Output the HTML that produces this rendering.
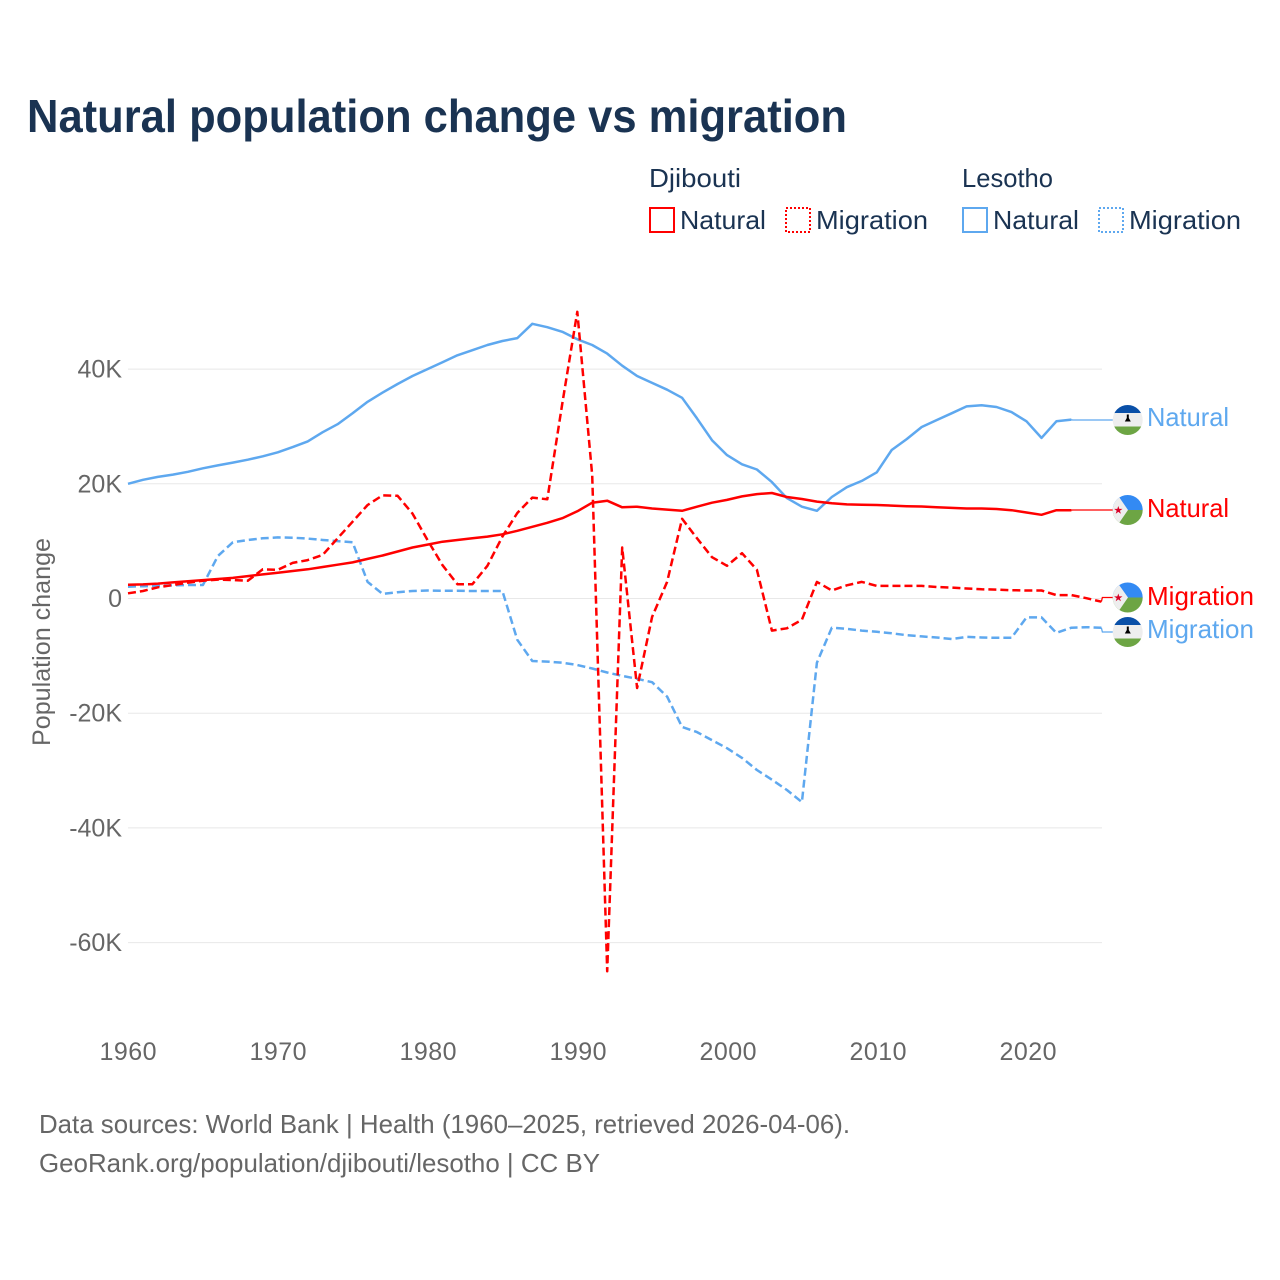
<!DOCTYPE html>
<html lang="en">
<head>
<meta charset="utf-8">
<title>Natural population change vs migration</title>
<style>
html,body{margin:0;padding:0;background:#fff;width:1280px;height:1280px;overflow:hidden}
svg{display:block;font-family:"Liberation Sans",sans-serif}
.legend{font-size:26px;fill:#1a3352}
.tick{font-size:25px;fill:#666}
.source{font-size:26px;fill:#666}
.end{font-size:26px}
</style>
</head>
<body>
<svg id="chart" width="1280" height="1280" viewBox="0 0 1280 1280" xmlns="http://www.w3.org/2000/svg">
  <text x="27" y="132" font-size="46" font-weight="700" fill="#1a3352" textLength="820" lengthAdjust="spacingAndGlyphs">Natural population change vs migration</text>

  <g>
    <text class="legend" x="649" y="187" textLength="92" lengthAdjust="spacingAndGlyphs">Djibouti</text>
    <text class="legend" x="962" y="187" textLength="91" lengthAdjust="spacingAndGlyphs">Lesotho</text>
    <rect x="650" y="208" width="24" height="24" fill="none" stroke="#ff0000" stroke-width="2"/>
    <text class="legend" x="680" y="229" textLength="86" lengthAdjust="spacingAndGlyphs">Natural</text>
    <rect x="786" y="208" width="24" height="24" fill="none" stroke="#ff0000" stroke-width="2" stroke-dasharray="2 2"/>
    <text class="legend" x="816" y="229" textLength="112" lengthAdjust="spacingAndGlyphs">Migration</text>
    <rect x="963" y="208" width="24" height="24" fill="none" stroke="#5ea8ef" stroke-width="2"/>
    <text class="legend" x="993" y="229" textLength="86" lengthAdjust="spacingAndGlyphs">Natural</text>
    <rect x="1099" y="208" width="24" height="24" fill="none" stroke="#5ea8ef" stroke-width="2" stroke-dasharray="2 2"/>
    <text class="legend" x="1129" y="229" textLength="112" lengthAdjust="spacingAndGlyphs">Migration</text>
  </g>

  <text class="tick" transform="translate(50 642) rotate(-90)" text-anchor="middle" textLength="208" lengthAdjust="spacingAndGlyphs">Population change</text>

  <g id="grid"></g>
  <g id="yticks"></g>
  <g id="xticks"></g>
  <g id="series"></g>

  <defs>
    <clipPath id="clip-a"><circle cx="1127.7" cy="420" r="15"/></clipPath>
    <clipPath id="clip-b"><circle cx="1127.7" cy="510" r="15"/></clipPath>
    <clipPath id="clip-c"><circle cx="1127.7" cy="597.5" r="15"/></clipPath>
    <clipPath id="clip-d"><circle cx="1127.7" cy="632" r="15"/></clipPath>
  </defs>

  <g clip-path="url(#clip-a)">
    <rect x="1112" y="404" width="32" height="9.5" fill="#0a50a8"/>
    <rect x="1112" y="413" width="32" height="14" fill="#eeeeee"/>
    <rect x="1112" y="426.5" width="32" height="10" fill="#6da544"/>
    <path d="M1126.8 414.5h2v3.5l2 3.5h-6l2-3.5z" fill="#000"/>
  </g>
  <g clip-path="url(#clip-b)">
    <rect x="1112" y="494" width="32" height="16" fill="#338af3"/>
    <rect x="1112" y="510" width="32" height="16" fill="#6da544"/>
    <path d="M1112 494h5l11 16-11 16h-5z" fill="#eeeeee"/>
    <path d="M1118.3 506l1 2.9h3.2l-2.6 1.9 1 3-2.6-1.9-2.6 1.9 1-3-2.6-1.9h3.2z" fill="#d80027"/>
  </g>
  <g clip-path="url(#clip-c)">
    <rect x="1112" y="582" width="32" height="15.5" fill="#338af3"/>
    <rect x="1112" y="597.5" width="32" height="16" fill="#6da544"/>
    <path d="M1112 582h5l11 15.5-11 16h-5z" fill="#eeeeee"/>
    <path d="M1118.3 593.5l1 2.9h3.2l-2.6 1.9 1 3-2.6-1.9-2.6 1.9 1-3-2.6-1.9h3.2z" fill="#d80027"/>
  </g>
  <g clip-path="url(#clip-d)">
    <rect x="1112" y="616" width="32" height="9.5" fill="#0a50a8"/>
    <rect x="1112" y="625" width="32" height="14" fill="#eeeeee"/>
    <rect x="1112" y="638.5" width="32" height="10" fill="#6da544"/>
    <path d="M1126.8 626.5h2v3.5l2 3.5h-6l2-3.5z" fill="#000"/>
  </g>

  <text class="end" x="1147" y="426" fill="#5ea8ef" textLength="82" lengthAdjust="spacingAndGlyphs">Natural</text>
  <text class="end" x="1147" y="517" fill="#ff0000" textLength="82" lengthAdjust="spacingAndGlyphs">Natural</text>
  <text class="end" x="1147" y="605" fill="#ff0000" textLength="107" lengthAdjust="spacingAndGlyphs">Migration</text>
  <text class="end" x="1147" y="638" fill="#5ea8ef" textLength="107" lengthAdjust="spacingAndGlyphs">Migration</text>

  <text class="source" x="39" y="1133" textLength="811" lengthAdjust="spacingAndGlyphs">Data sources: World Bank | Health (1960–2025, retrieved 2026-04-06).</text>
  <text class="source" x="39" y="1172" textLength="561" lengthAdjust="spacingAndGlyphs">GeoRank.org/population/djibouti/lesotho | CC BY</text>
</svg>

<script>
const startYear = 1960;
const xTickYears = [1960, 1970, 1980, 1990, 2000, 2010, 2020];
const yTickValues = [40, 20, 0, -20, -40, -60];
const yTickLabels = ["40K", "20K", "0", "-20K", "-40K", "-60K"];

const djiboutiNatural = [2.4,2.45,2.6,2.8,3.0,3.2,3.4,3.6,3.9,4.2,4.5,4.8,5.1,5.5,5.9,6.3,6.9,7.5,8.2,8.9,9.4,9.9,10.2,10.5,10.8,11.2,11.8,12.5,13.2,14.0,15.2,16.7,17.05,15.9,16.0,15.7,15.5,15.3,16.0,16.7,17.2,17.8,18.2,18.4,17.7,17.35,16.9,16.6,16.4,16.35,16.3,16.2,16.1,16.05,15.9,15.8,15.7,15.7,15.6,15.4,15.0,14.6,15.4,15.4];
const djiboutiMigration = [0.9,1.3,1.95,2.35,2.75,3.1,3.3,3.2,3.1,5.1,5.0,6.2,6.7,7.6,10.5,13.4,16.3,18.0,17.9,14.8,10.2,5.8,2.5,2.5,5.7,10.8,14.9,17.6,17.3,34,50.0,21.5,-65,8.9,-15.6,-3.2,2.9,13.9,10.5,7.2,5.7,7.9,5.0,-5.6,-5.2,-3.7,2.9,1.4,2.3,2.9,2.2,2.2,2.2,2.2,2.0,1.9,1.75,1.6,1.55,1.45,1.4,1.4,0.6,0.6,0.05,-0.55];
const lesothoNatural = [20.0,20.7,21.2,21.6,22.1,22.7,23.2,23.7,24.2,24.8,25.5,26.4,27.4,29.0,30.4,32.3,34.3,35.9,37.4,38.8,40.0,41.2,42.4,43.3,44.2,44.9,45.4,47.9,47.3,46.5,45.2,44.2,42.7,40.6,38.8,37.6,36.4,35.0,31.4,27.6,25.0,23.4,22.5,20.3,17.5,16.0,15.3,17.7,19.4,20.5,22.0,25.9,27.8,29.9,31.1,32.3,33.5,33.7,33.4,32.5,30.9,28.0,30.9,31.2];
const lesothoMigration = [2.05,2.15,2.2,2.3,2.35,2.35,7.4,9.8,10.2,10.5,10.65,10.6,10.45,10.2,10.0,9.8,2.9,0.8,1.1,1.3,1.4,1.35,1.35,1.3,1.3,1.3,-7.2,-10.9,-11.0,-11.2,-11.6,-12.2,-12.9,-13.5,-14.0,-14.6,-17.1,-22.4,-23.3,-24.7,-26.1,-27.8,-29.9,-31.6,-33.4,-35.5,-11.2,-5.1,-5.3,-5.6,-5.8,-6.07,-6.4,-6.6,-6.8,-7.06,-6.7,-6.8,-6.85,-6.85,-3.3,-3.3,-6.0,-5.1,-5.0,-5.1];

const NS = "http://www.w3.org/2000/svg";
const xOf = function (year) { return 128 + (year - 1960) * 15; };
const xData = function (year) { return 128 + (year - 1960) * 14.975; };
const yOf = function (k) { return 598.5 - k * 5.735; };
const gridGroup = document.getElementById("grid");
const yTickGroup = document.getElementById("yticks");
const xTickGroup = document.getElementById("xticks");
const seriesGroup = document.getElementById("series");

yTickValues.forEach(function (v, i) {
  const line = document.createElementNS(NS, "line");
  
  
  line.setAttribute("x1", 128);
  line.setAttribute("x2", 1102);
  line.setAttribute("y1", yOf(v));
  line.setAttribute("y2", yOf(v));
  line.setAttribute("stroke", "#e8e8e8");
  line.setAttribute("stroke-width", "1");
  gridGroup.appendChild(line);

  const label = document.createElementNS(NS, "text");
  
  
  label.setAttribute("class", "tick");
  label.setAttribute("x", 122);
  label.setAttribute("y", yOf(v) + 8.5);
  label.setAttribute("text-anchor", "end");
  label.textContent = yTickLabels[i];
  yTickGroup.appendChild(label);
});

xTickYears.forEach(function (year) {
  const label = document.createElementNS(NS, "text");
  
  
  label.setAttribute("class", "tick");
  label.setAttribute("x", xOf(year));
  label.setAttribute("y", 1060);
  label.setAttribute("text-anchor", "middle");
  label.setAttribute("textLength", "57");
  label.textContent = String(year);
  xTickGroup.appendChild(label);
});

function drawSeries(name, values, color, dashed, labelY) {
  const pts = values.map(function (v, i) {
    return xData(startYear + i).toFixed(1) + "," + yOf(v).toFixed(1);
  });
  const path = document.createElementNS(NS, "polyline");
  
  
  path.setAttribute("points", pts.join(" "));
  path.setAttribute("fill", "none");
  path.setAttribute("stroke", color);
  path.setAttribute("stroke-width", "2.5");
  path.setAttribute("stroke-linejoin", "round");
  if (dashed) path.setAttribute("stroke-dasharray", "8 4");
  seriesGroup.appendChild(path);

  const lastX = xData(startYear + values.length - 1);
  const lastY = yOf(values[values.length - 1]);
  const link = document.createElementNS(NS, "polyline");
  
  
  link.setAttribute("points", lastX + "," + lastY + " " + (lastX + 1) + "," + labelY + " 1114," + labelY);
  link.setAttribute("fill", "none");
  link.setAttribute("stroke", color);
  link.setAttribute("stroke-width", "1.3");
  seriesGroup.appendChild(link);
}

drawSeries("lesotho-natural", lesothoNatural, "#5ea8ef", false, 420);
drawSeries("lesotho-migration", lesothoMigration, "#5ea8ef", true, 632);
drawSeries("djibouti-natural", djiboutiNatural, "#ff0000", false, 510);
drawSeries("djibouti-migration", djiboutiMigration, "#ff0000", true, 597.5);
</script>
</body>
</html>
